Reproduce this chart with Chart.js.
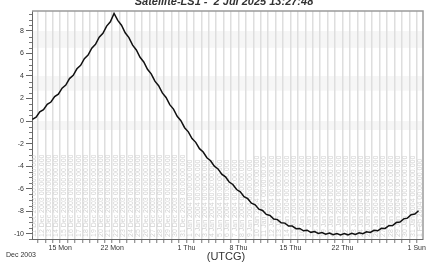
<!DOCTYPE html>
<html>
<head>
<meta charset="utf-8">
<script src="https://cdn.jsdelivr.net/npm/chart.js@4"></script>
<style>
  body { margin: 0; background: #fff; }
  #wrap { width: 445px; height: 263px; }
</style>
</head>
<body>
<div id="wrap"><canvas id="lsChart" width="445" height="263"></canvas></div>
<script>
// x values are days since 1 Dec 2003 00:00 UTCG
const days = [10.25, 10.75, 11.25, 11.75, 12.25, 12.75, 13.25, 13.75, 14.25, 14.75,
  15.25, 15.75, 16.25, 16.75, 17.25, 17.75, 18.25, 18.75, 19.25, 19.75,
  20.25, 20.75, 21.25, 21.75, 22.25, 22.75, 23.25, 23.75, 24.25, 24.75,
  25.25, 25.75, 26.25, 26.75, 27.25, 27.75, 28.25, 28.75, 29.25, 29.75,
  30.25, 30.75, 31.25, 31.75, 32.25, 32.75, 33.25, 33.75, 34.25, 34.75,
  35.25, 35.75, 36.25, 36.75, 37.25, 37.75, 38.25, 38.75, 39.25, 39.75,
  40.25, 40.75, 41.25, 41.75, 42.25, 42.75, 43.25, 43.75, 44.25, 44.75,
  45.25, 45.75, 46.25, 46.75, 47.25, 47.75, 48.25, 48.75, 49.25, 49.75,
  50.25, 50.75, 51.25, 51.75, 52.25, 52.75, 53.25, 53.75, 54.25, 54.75,
  55.25, 55.75, 56.25, 56.75, 57.25, 57.75, 58.25, 58.75, 59.25, 59.75,
  60.25, 60.75, 61.25, 61.75, 62.25];

const lsValues = [0.15, 0.35, 0.82, 1.01, 1.49, 1.69, 2.17, 2.38, 2.92, 3.2,
  3.77, 4.06, 4.64, 4.95, 5.54, 5.86, 6.47, 6.81, 7.44, 7.79,
  8.43, 8.81, 9.55, 8.94, 8.51, 7.84, 7.41, 6.74, 6.31, 5.66,
  5.25, 4.6, 4.19, 3.54, 3.14, 2.5, 2.1, 1.46, 1.06, 0.42,
  0.03, -0.59, -0.96, -1.55, -1.89, -2.45, -2.75, -3.26, -3.52, -4.01,
  -4.25, -4.72, -4.95, -5.41, -5.63, -6.08, -6.28, -6.71, -6.89, -7.29,
  -7.44, -7.82, -7.94, -8.29, -8.38, -8.69, -8.75, -9.03, -9.06, -9.32,
  -9.32, -9.55, -9.53, -9.74, -9.69, -9.88, -9.81, -9.98, -9.9, -10.05,
  -9.95, -10.09, -9.98, -10.11, -9.99, -10.1, -9.97, -10.07, -9.92, -10.0,
  -9.83, -9.89, -9.7, -9.74, -9.52, -9.53, -9.29, -9.28, -9.01, -8.97,
  -8.68, -8.62, -8.32, -8.26, -7.96];

const tickDays = [14, 21, 31, 38, 45, 52, 62];
const tickLabels = ['15 Mon', '22 Mon', '1 Thu', '8 Thu', '15 Thu', '22 Thu', '1 Sun'];
const yTicks = [-10, -8, -6, -4, -2, 0, 2, 4, 6, 8];

const titleText = 'Satellite-LS1 -  2 Jul 2025 13:27:48';
const monthText = 'Dec 2003';
const unitText = '(UTCG)';
const monthNames = ['Jan', 'Feb', 'Mar', 'Apr', 'May', 'Jun', 'Jul', 'Aug', 'Sep', 'Oct', 'Nov', 'Dec'];

const X_MIN = 10.2, X_MAX = 62.85;
const Y_MIN = -10.47, Y_MAX = 9.77;

function columnLabel(d) {
    const dt = new Date(Date.UTC(2003, 11, 1 + d));
    return dt.getUTCDate() + ' ' + monthNames[dt.getUTCMonth()] + ' ' + dt.getUTCFullYear() + ' 00:00:00.000';
}

const stkDecor = {
    id: 'stkDecor',
    beforeDraw(chart) {
        const c = chart.ctx;
        c.save();
        c.fillStyle = '#fff';
        c.fillRect(0, 0, chart.width, chart.height);
        // faint horizontal bands
        const a = chart.chartArea, y = chart.scales.y;
        c.fillStyle = '#f6f6f6';
        [[6.5, 8], [2.7, 4], [-0.8, 0]].forEach(b => {
            const y1 = y.getPixelForValue(b[1]), y2 = y.getPixelForValue(b[0]);
            c.fillRect(a.left, y1, a.right - a.left, y2 - y1);
        });
        c.restore();
    },
    beforeDatasetsDraw(chart) {
        const c = chart.ctx, a = chart.chartArea, x = chart.scales.x;
        c.save();
        c.beginPath();
        c.rect(a.left, a.top, a.right - a.left, a.bottom - a.top);
        c.clip();
        c.fillStyle = '#d2d2d2';
        c.font = '7px "Liberation Sans"';
        c.textAlign = 'left';
        c.textBaseline = 'middle';
        for (let d = 10; d <= 62; d++) {
            const px = x.getPixelForValue(d + 0.5);
            c.save();
            c.translate(px, a.bottom - 2);
            c.rotate(-Math.PI / 2);
            c.fillText(columnLabel(d), 0, 0);
            c.restore();
        }
        c.restore();
    },
    afterDraw(chart) {
        const c = chart.ctx, a = chart.chartArea, y = chart.scales.y;
        c.save();
        // frame
        c.strokeStyle = '#9a9a9a';
        c.lineWidth = 1.5;
        c.beginPath();
        c.moveTo(a.left, a.top);
        c.lineTo(a.right, a.top);
        c.lineTo(a.right, a.bottom);
        c.stroke();
        // minor y ticks
        c.strokeStyle = '#777';
        c.lineWidth = 1;
        for (let v = -10.5; v <= 9.5; v += 0.5) {
            if (Math.abs(v % 2) < 1e-6) continue;
            const py = Math.round(y.getPixelForValue(v)) + 0.5;
            c.beginPath();
            c.moveTo(a.left - 3, py);
            c.lineTo(a.left, py);
            c.stroke();
        }
        // texts
        c.fillStyle = '#333';
        c.textAlign = 'center';
        c.textBaseline = 'alphabetic';
        c.font = 'italic bold 11px "Liberation Sans"';
        c.fillText(titleText, 224, 5);
        c.font = '11px "Liberation Sans"';
        c.fillText(unitText, 226, 260);
        c.textAlign = 'left';
        c.font = '7px "Liberation Sans"';
        c.fillText(monthText, 6, 257);
        c.restore();
    }
};

const ctx = document.getElementById('lsChart').getContext('2d');
const lsChart = new Chart(ctx, {
    type: 'line',
    data: {
        datasets: [{
            data: days.map((d, i) => ({ x: d, y: lsValues[i] })),
            borderColor: '#111',
            borderWidth: 1.5,
            pointRadius: 0,
            tension: 0,
            fill: false
        }]
    },
    options: {
        responsive: false,
        animation: false,
        devicePixelRatio: 1,
        layout: { padding: { left: 0, right: 22, top: 11, bottom: 0 } },
        plugins: { legend: { display: false }, tooltip: { enabled: false }, title: { display: false } },
        scales: {
            x: {
                type: 'linear',
                min: X_MIN,
                max: X_MAX,
                afterBuildTicks: (scale) => {
                    const t = [];
                    for (let d = 11; d <= 62; d++) t.push({ value: d });
                    scale.ticks = t;
                },
                afterFit: (scale) => { scale.height = 24; },
                grid: {
                    color: '#dedede',
                    lineWidth: 1.5,
                    tickLength: 4,
                    tickColor: '#777',
                    tickWidth: 1
                },
                border: { color: '#666', width: 1 },
                ticks: {
                    autoSkip: false,
                    maxRotation: 0,
                    padding: 1,
                    color: '#333',
                    font: { family: 'Liberation Sans', size: 7 },
                    callback: (v) => {
                        const i = tickDays.indexOf(v);
                        return i >= 0 ? tickLabels[i] : '';
                    }
                }
            },
            y: {
                min: Y_MIN,
                max: Y_MAX,
                afterBuildTicks: (scale) => { scale.ticks = yTicks.map(v => ({ value: v })); },
                afterFit: (scale) => { scale.width = 32; },
                grid: {
                    drawOnChartArea: false,
                    tickLength: 6,
                    tickColor: '#666'
                },
                border: { color: '#666', width: 1 },
                ticks: {
                    padding: 2,
                    color: '#333',
                    font: { family: 'Liberation Sans', size: 7 }
                }
            }
        }
    },
    plugins: [stkDecor]
});
</script>
</body>
</html>
